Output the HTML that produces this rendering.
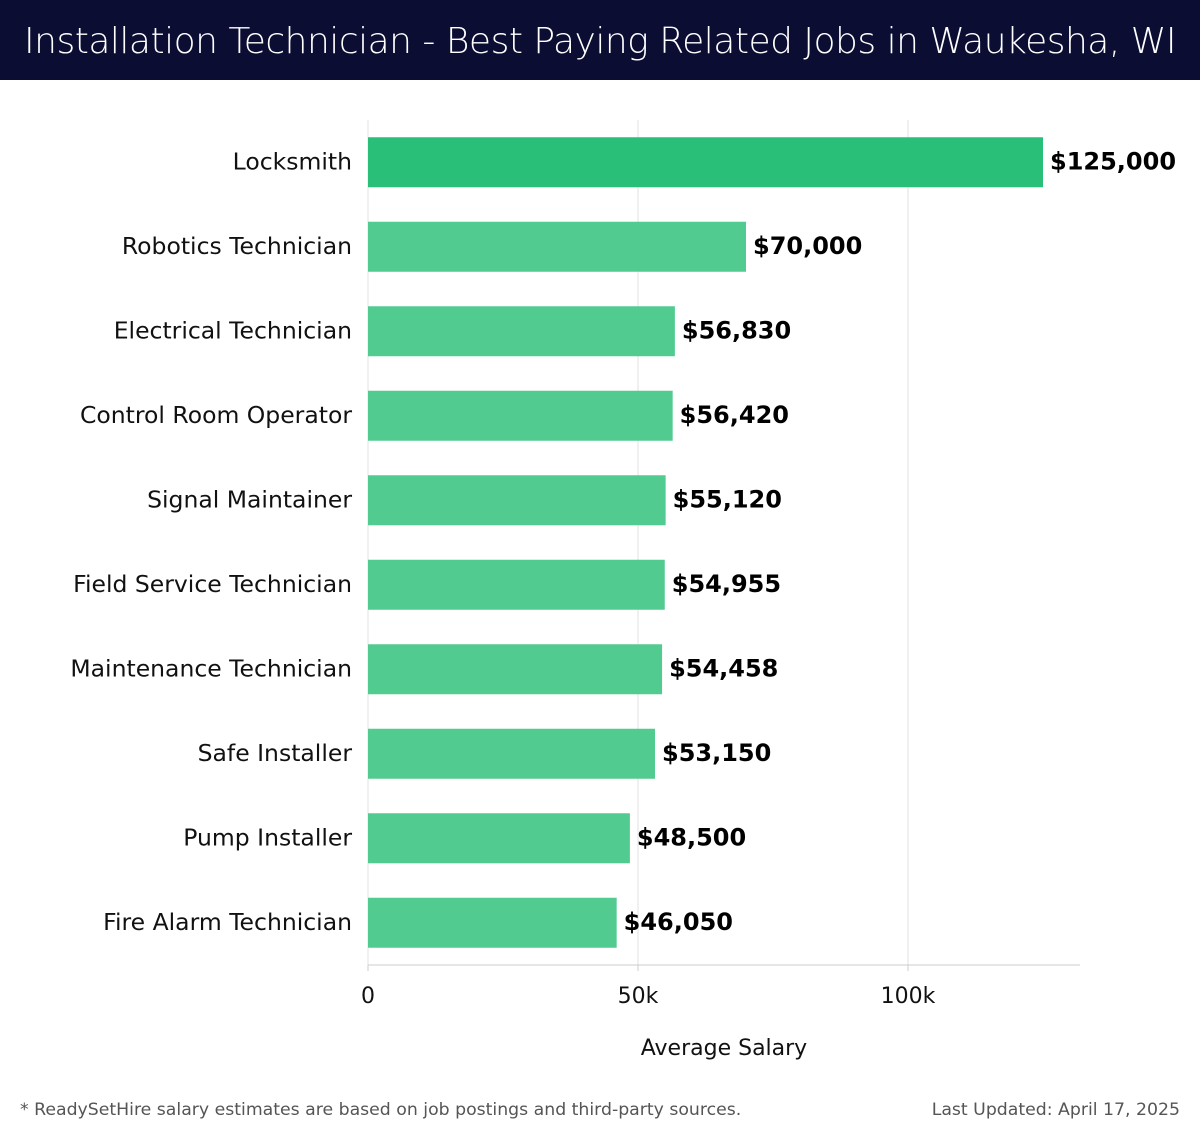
<!DOCTYPE html>
<html><head><meta charset="utf-8"><style>
body{margin:0;width:1200px;height:1140px;background:#fff;font-family:"DejaVu Sans","Liberation Sans",sans-serif;overflow:hidden}
#hdr{position:absolute;left:0;top:0;width:1200px;height:80px;background:#0b0d33;color:#fff;font-size:36px;line-height:84px;text-align:center;font-family:"DejaVu Sans","Liberation Sans",sans-serif;font-weight:300;letter-spacing:-0.5px;white-space:nowrap}
.foot{position:absolute;top:1100px;font-size:17.3px;color:#555}
</style></head><body>
<div id="hdr">Installation Technician - Best Paying Related Jobs in Waukesha, WI</div>
<svg id="chart" width="1200" height="1140" style="position:absolute;left:0;top:0"></svg>
<div class="foot" style="left:20px">* ReadySetHire salary estimates are based on job postings and third-party sources.</div>
<div class="foot" style="right:20px">Last Updated: April 17, 2025</div>
<script>
const categories=["Locksmith","Robotics Technician","Electrical Technician","Control Room Operator","Signal Maintainer","Field Service Technician","Maintenance Technician","Safe Installer","Pump Installer","Fire Alarm Technician"];
const values=[125000,70000,56830,56420,55120,54955,54458,53150,48500,46050];
const valueLabels=["$125,000","$70,000","$56,830","$56,420","$55,120","$54,955","$54,458","$53,150","$48,500","$46,050"];
const ticks=[0,50000,100000];
const tickLabels=["0","50k","100k"];
const svg=document.getElementById('chart');
const NS="http://www.w3.org/2000/svg";
const x0=368,kpx=270/50000,plotTop=120,plotBottom=965,plotRight=1080;
const xs=v=>x0+v*kpx;
const step=(plotBottom-plotTop)/categories.length;
const ys=i=>plotTop+step*i+step/2;
function mk(t,a){const e=document.createElementNS(NS,t);for(const k in a)e.setAttribute(k,a[k]);svg.appendChild(e);return e;}
ticks.forEach((t,i)=>{
 const g=mk('line',{x1:xs(t),x2:xs(t),y1:plotTop,y2:plotBottom,stroke:'#e0e0e0','stroke-width':1});
 
 
 mk('line',{x1:xs(t),x2:xs(t),y1:plotBottom,y2:plotBottom+6,stroke:'#ccc'});
 const tl=mk('text',{x:xs(t),y:1003,'text-anchor':'middle','font-size':22,fill:'#111'});
 tl.textContent=tickLabels[i];
 
 
});
mk('line',{x1:x0,x2:plotRight,y1:plotBottom,y2:plotBottom,stroke:'#ccc'});
categories.forEach((c,i)=>{
 const cy=ys(i);
 const r=mk('rect',{x:x0,y:cy-25,width:xs(values[i])-x0,height:50,fill:i==0?'#2abf78':'#52cb90'});
 
 
 const l=mk('text',{x:352,y:cy+7,'text-anchor':'end','font-size':23.5,fill:'#111'});
 l.textContent=c;
 
 
 const v=mk('text',{x:xs(values[i])+7,y:cy+7,'font-size':24,'font-weight':'bold',fill:'#000'});
 v.textContent=valueLabels[i];
 
 
});
const at=mk('text',{x:724,y:1055,'text-anchor':'middle','font-size':22,fill:'#111'});
at.textContent="Average Salary";


</script>
</body></html>
